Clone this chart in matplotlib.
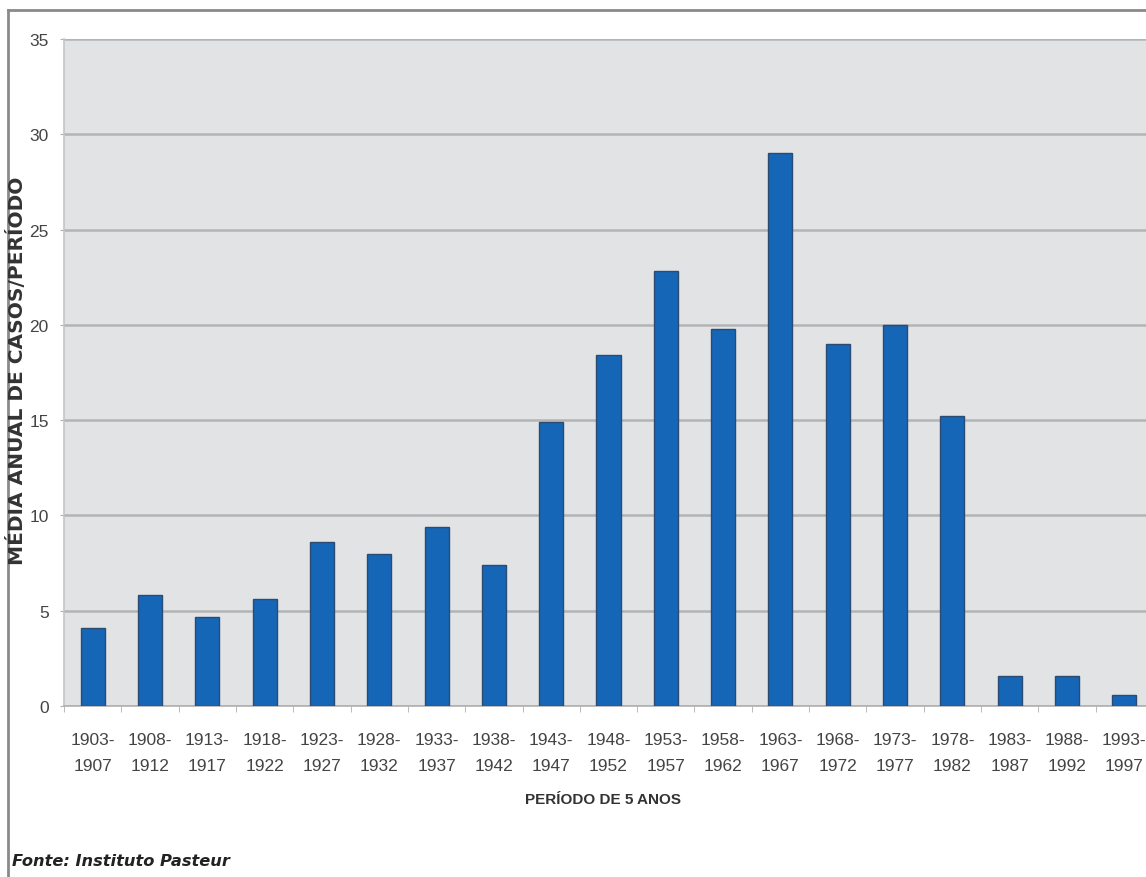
import matplotlib
matplotlib.use("Agg")
import matplotlib.pyplot as plt
from matplotlib.lines import Line2D
import numpy as np

periods = ["1903-\n1907", "1908-\n1912", "1913-\n1917", "1918-\n1922", "1923-\n1927",
           "1928-\n1932", "1933-\n1937", "1938-\n1942", "1943-\n1947", "1948-\n1952",
           "1953-\n1957", "1958-\n1962", "1963-\n1967", "1968-\n1972", "1973-\n1977",
           "1978-\n1982", "1983-\n1987", "1988-\n1992", "1993-\n1997"]
values = [4.1, 5.8, 4.65, 5.6, 8.6, 8.0, 9.4, 7.4, 14.9, 18.4, 22.8, 19.8, 29.0,
          19.0, 20.0, 15.2, 1.6, 1.6, 0.6]
yticks = [0, 5, 10, 15, 20, 25, 30, 35]

plt.rcParams['font.family'] = ['Liberation Sans', 'DejaVu Sans']

W, H = 1146, 878
fig = plt.figure(figsize=(W / 100, H / 100), dpi=100)
fig.patch.set_facecolor('white')

left, right, top, bottom = 64, 1153, 40, 707
ax = fig.add_axes([left / W, 1 - bottom / H, (right - left) / W, (bottom - top) / H])
ax.set_facecolor('#e2e3e5')

x = np.arange(len(values))
ax.bar(x, values, width=0.42, color='#1566b7', edgecolor='#2c4b72', linewidth=1.0, zorder=3)

ax.set_xlim(-0.5, len(values) - 0.5)
ax.set_ylim(0, 35)
ax.set_yticks(yticks)
ax.set_yticklabels([str(t) for t in yticks])
ax.yaxis.grid(True, color='#b3b4b6', linewidth=1.8, zorder=1)
ax.set_axisbelow(True)

ax.set_xticks(x)
ax.set_xticklabels(periods, linespacing=1.85)
ax.set_xticks(np.arange(-0.5, len(values), 1.0), minor=True)
ax.tick_params(axis='x', which='major', length=0, pad=19, labelsize=12.5, labelcolor='#444444')
ax.tick_params(axis='x', which='minor', length=4, color='#b0b0b0', direction='out')
ax.tick_params(axis='y', length=3, color='#b0b0b0', pad=8, labelsize=12.5, labelcolor='#444444')

for s in ['top', 'right']:
    ax.spines[s].set_visible(False)
ax.spines['left'].set_color('#c4c5c7')
ax.spines['bottom'].set_color('#b0b0b0')
ax.spines['left'].set_linewidth(1.2)
ax.spines['bottom'].set_linewidth(1.2)

fig.text(603 / W, 1 - 800 / H, 'PERÍODO DE 5 ANOS', ha='center', va='center',
         fontsize=11, fontweight='bold', color='#333333')
fig.text(17 / W, 1 - 371 / H, 'MÉDIA ANUAL DE CASOS/PERÍODO', ha='center', va='center',
         rotation=90, fontsize=14.5, fontweight='bold', color='#333333',
         family=['DejaVu Sans'])
fig.text(12 / W, 1 - 862 / H, 'Fonte: Instituto Pasteur', ha='left', va='center',
         fontsize=11.7, fontweight='bold', style='italic', color='#222222',
         family=['DejaVu Sans'])

# outer frame (top and left edges)
fig.add_artist(Line2D([8 / W, 8 / W], [0, 1 - 11 / H], transform=fig.transFigure,
                      color='#8a8a8a', linewidth=2))
fig.add_artist(Line2D([8 / W, 1], [1 - 11 / H, 1 - 11 / H], transform=fig.transFigure,
                      color='#8a8a8a', linewidth=2))

fig.savefig('out.png', dpi=100)
